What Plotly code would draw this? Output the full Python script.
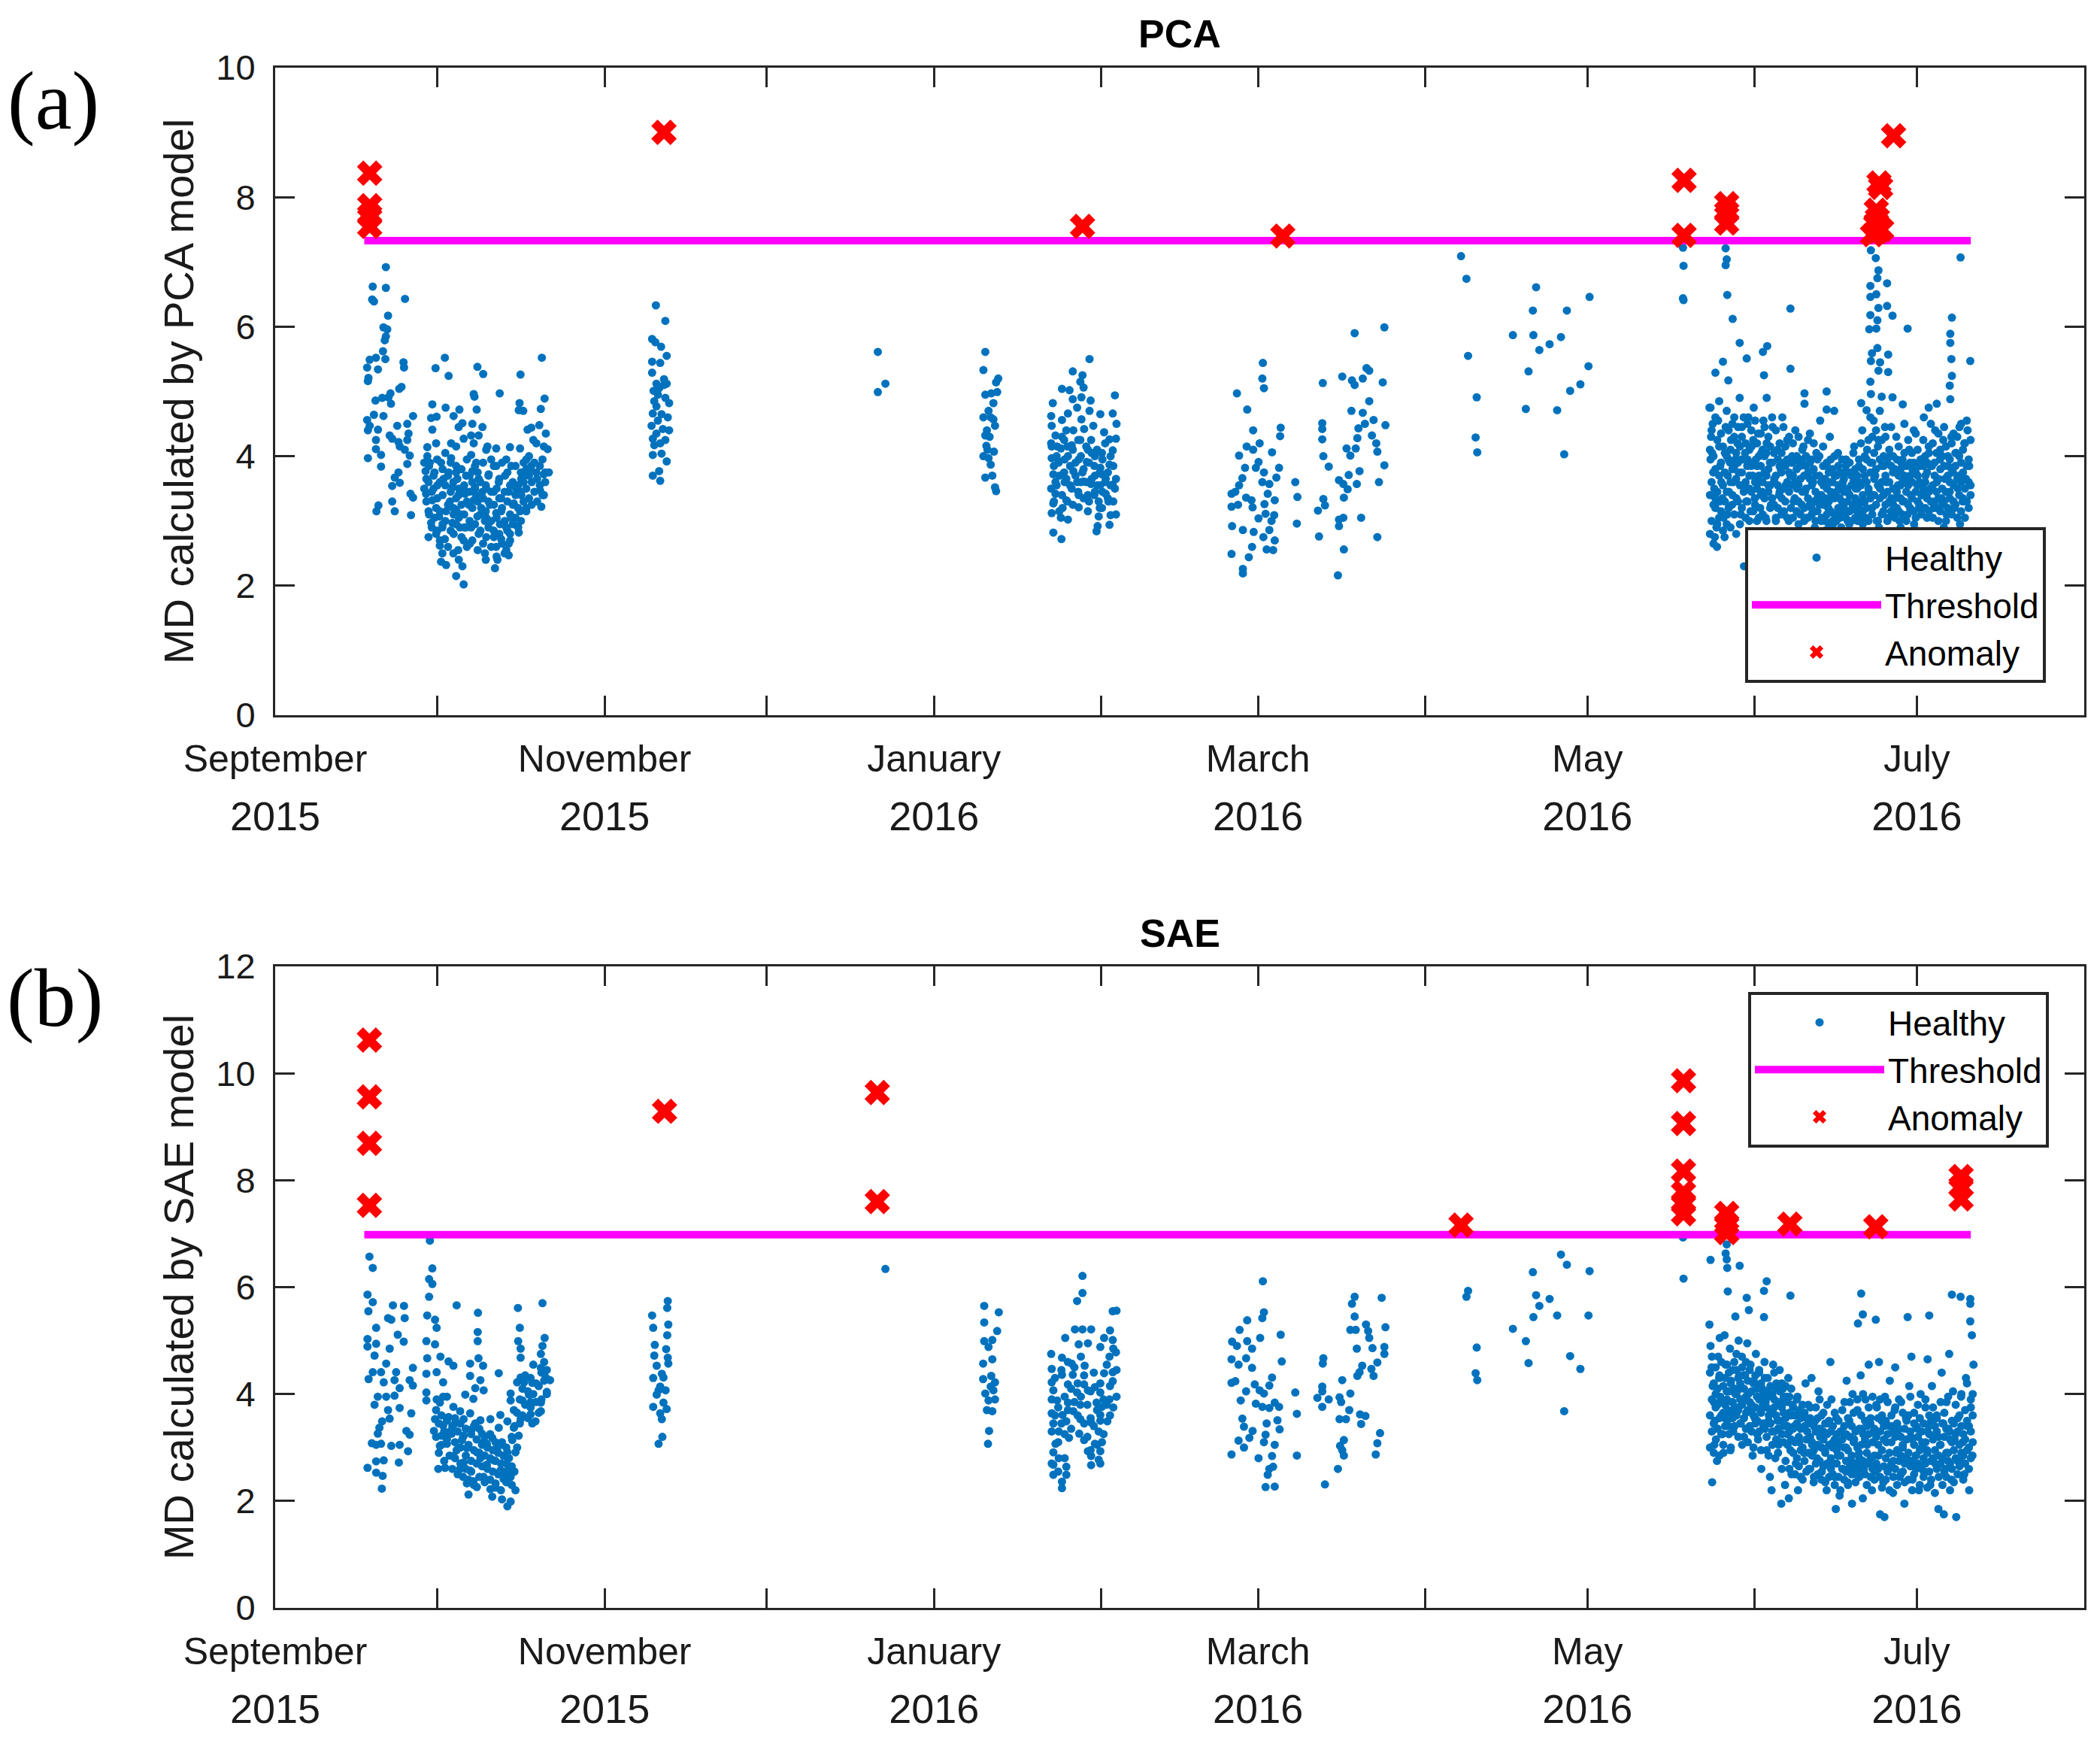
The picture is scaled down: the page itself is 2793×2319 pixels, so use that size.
import pandas as pd
import plotly.graph_objects as go

# ---------------- data ----------------
START = pd.Timestamp("2015-09-01")   # day offsets below are counted from this date

month_ticks = ["2015-09-01", "2015-10-01", "2015-11-01", "2015-12-01", "2016-01-01", "2016-02-01",
               "2016-03-01", "2016-04-01", "2016-05-01", "2016-06-01", "2016-07-01", "2016-08-01"]
month_names = ["September", "", "November", "", "January", "", "March", "", "May", "", "July", ""]
month_years = ["2015", "", "2015", "", "2016", "", "2016", "", "2016", "", "2016", ""]

threshold_span = ["2015-09-17 12:00", "2016-07-11 00:00"]
pca_threshold = 7.33
sae_threshold = 6.98

# PCA healthy points: (day offset, MD)
pca_healthy = [
    # Sep 17-27
    (20.5, 6.92), (18.06, 6.62), (20.5, 6.6), (17.96, 6.42), (18.3, 6.39), (24.04, 6.43), (20.9, 6.17),
    (20.05, 5.99), (20.75, 5.96), (20.5, 5.85), (20.3, 5.79), (19.96, 5.62), (17.5, 5.49), (18.66, 5.52),
    (20.4, 5.5), (17.03, 5.37), (19.03, 5.34), (17.27, 5.21), (17.17, 5.16), (23.76, 5.45), (23.86, 5.37),
    (23.39, 5.07), (22.97, 5.04), (21.35, 4.97), (20.98, 4.91), (18.57, 4.86), (19.82, 4.9), (21.44, 4.81),
    (18.29, 4.64), (20.05, 4.62), (25.53, 4.62), (17.03, 4.56), (17.5, 4.47), (17.17, 4.4), (19.03, 4.41),
    (22.6, 4.47), (24.46, 4.5), (24.69, 4.35), (21.2, 4.32), (21.67, 4.27), (22.83, 4.22), (24.46, 4.25),
    (18.66, 4.25), (23.07, 4.15), (24.0, 4.1), (18.66, 4.11), (19.6, 4.02), (24.92, 4.01), (17.17, 3.97),
    (24.46, 3.88), (19.6, 3.84), (22.83, 3.75), (22.14, 3.67), (23.07, 3.59), (21.67, 3.54), (25.06, 3.42),
    (25.53, 3.36), (19.12, 3.24), (18.75, 3.15), (21.67, 3.3), (22.14, 3.15), (25.15, 3.09),
    # Sep 28 - Oct 21 (sparse upper part)
    (31.42, 5.52), (29.7, 5.36), (32.12, 5.24), (37.45, 5.38), (38.52, 5.27), (49.38, 5.52), (45.43, 5.26),
    (36.76, 4.96), (36.9, 4.92), (41.58, 4.97), (49.89, 4.89), (29.1, 4.8), (31.56, 4.75), (34.11, 4.72),
    (33.04, 4.62), (37.31, 4.72), (45.25, 4.82), (45.11, 4.71), (45.94, 4.7), (49.19, 4.73), (28.87, 4.59),
    (29.89, 4.61), (29.1, 4.41), (34.67, 4.51), (33.97, 4.45), (36.52, 4.5), (38.38, 4.45), (46.73, 4.41),
    (47.43, 4.44), (48.91, 4.48), (50.12, 4.35), (34.9, 4.27), (36.29, 4.32), (37.68, 4.32), (36.76, 4.2),
    (29.8, 4.2), (32.58, 4.2), (28.17, 4.14), (33.51, 4.15), (39.31, 4.15), (40.93, 4.12), (43.48, 4.14),
    (45.34, 4.12), (47.8, 4.25), (48.36, 4.2), (49.75, 4.15), (50.45, 4.11),
    # Sep 28 - Oct 21 (dense core)
    (28.17, 4.0), (28.64, 3.9), (27.85, 3.77), (29.33, 3.7), (28.4, 3.6), (30.03, 3.55), (27.94, 3.42),
    (29.1, 3.32), (29.8, 3.2), (28.4, 3.15), (30.35, 3.07), (28.87, 2.97), (30.96, 2.9), (29.8, 2.8),
    (31.42, 2.72), (30.49, 2.62), (30.96, 2.5), (30.72, 2.37), (31.65, 2.32), (28.4, 2.75),
    (32.58, 3.97), (33.51, 3.85), (32.12, 3.75), (33.74, 3.65), (32.81, 3.52), (33.97, 3.4), (32.35, 3.3),
    (33.51, 3.17), (34.44, 3.1), (32.81, 2.97), (34.2, 2.9), (33.04, 2.8), (34.9, 2.7), (33.88, 2.55),
    (33.51, 2.15), (34.9, 2.02), (34.67, 2.3), (35.36, 3.7), (35.13, 3.42), (35.83, 3.25),
    (36.29, 4.02), (37.22, 3.9), (36.52, 3.77), (37.68, 3.65), (36.99, 3.52), (38.38, 3.45), (36.76, 3.32),
    (38.15, 3.2), (37.45, 3.07), (38.84, 3.0), (36.29, 2.9), (37.68, 2.8), (36.06, 2.65), (38.84, 2.5),
    (39.08, 4.1), (40.0, 3.95), (40.93, 3.85), (39.54, 3.72), (41.4, 3.6), (40.47, 3.45), (41.86, 3.35),
    (39.77, 3.25), (40.93, 3.12), (39.08, 3.05), (41.63, 2.95), (40.47, 2.85), (41.86, 2.72), (40.93, 2.6),
    (42.79, 2.55), (41.16, 2.4), (40.7, 2.27), (43.25, 2.47),
    (42.79, 3.95), (43.72, 3.85), (42.56, 3.7), (43.95, 3.57), (43.25, 3.45), (44.64, 3.5), (45.57, 3.4),
    (44.18, 3.27), (45.34, 3.15), (43.72, 3.05), (44.88, 2.92), (43.48, 2.8), (45.11, 2.82), (43.25, 2.65),
    (46.5, 3.95), (47.2, 3.8), (46.04, 3.7), (48.36, 3.75), (49.75, 3.72), (50.68, 3.75), (49.05, 3.47),
    (49.75, 3.4), (49.28, 3.22), (47.43, 3.85),
    (29.33, 3.5), (31.19, 3.65), (31.65, 3.15), (35.36, 2.9), (37.22, 3.4), (39.08, 3.5), (41.86, 3.15),
    (42.79, 2.9), (45.57, 3.65), (46.5, 3.2), (30.72, 3.9), (39.08, 2.75), (34.9, 3.5), (33.04, 3.1),
    # Nov 9-13
    (70.5, 6.33), (72.25, 6.09), (69.8, 5.81), (70.4, 5.76), (71.46, 5.69), (72.5, 5.55), (69.8, 5.46),
    (71.3, 5.44), (69.8, 5.29), (72.0, 5.19), (70.6, 5.12), (72.5, 5.12), (70.07, 5.01), (71.1, 5.05),
    (72.25, 4.9), (70.2, 4.85), (72.95, 4.82), (70.6, 4.77), (69.93, 4.66), (72.7, 4.6), (70.87, 4.55),
    (69.7, 4.47), (71.8, 4.42), (72.95, 4.4), (70.6, 4.35), (69.93, 4.27), (72.25, 4.25), (71.3, 4.2),
    (70.2, 4.17), (69.93, 4.02), (71.55, 4.04), (72.5, 3.92), (71.1, 3.77), (69.93, 3.7), (71.3, 3.62),
    (72.0, 5.1), (70.87, 4.95), (71.55, 4.65),
    # Dec 20-22
    (111.6, 5.61), (113.0, 5.12), (111.6, 4.99),
    # Jan 9-13
    (131.5, 5.61), (131.15, 5.33), (133.9, 5.2), (133.5, 5.14), (131.5, 4.95), (132.6, 4.97), (133.7, 4.99),
    (133.0, 4.82), (132.1, 4.7), (131.15, 4.6), (133.0, 4.57), (133.3, 4.47), (131.8, 4.4), (131.5, 4.32),
    (132.3, 4.3), (131.7, 4.16), (133.1, 4.07), (131.15, 4.0), (132.1, 3.97), (132.5, 3.87), (132.8, 3.7),
    (131.5, 3.67), (133.3, 3.52), (133.5, 3.46), (131.9, 4.1), (132.5, 4.6),
    # Jan 22 - Feb 5
    (150.8, 5.5), (147.7, 5.31), (149.5, 5.25), (149.1, 5.15), (149.7, 5.06), (145.7, 5.04), (147.1, 5.02),
    (155.5, 4.94), (144.0, 4.82), (147.7, 4.88), (149.3, 4.91), (151.0, 4.86), (148.5, 4.75), (150.8, 4.7),
    (152.8, 4.65), (155.1, 4.66), (143.7, 4.62), (146.8, 4.66), (145.7, 4.56), (143.8, 4.47), (149.3, 4.57),
    (151.5, 4.47), (155.8, 4.5), (146.5, 4.4), (147.8, 4.4), (149.8, 4.42), (153.5, 4.37), (144.5, 4.32),
    (146.1, 4.25), (149.1, 4.25), (151.1, 4.25), (154.5, 4.26), (155.7, 4.27), (143.8, 4.15), (145.5, 4.12),
    (147.5, 4.17), (150.5, 4.1), (155.1, 4.09), (153.1, 4.05), (151.8, 4.0), (143.8, 3.97), (145.1, 3.92),
    (146.8, 4.0), (148.8, 3.95), (150.3, 3.91), (154.5, 3.87), (152.8, 3.82), (144.1, 3.72), (146.1, 3.75),
    (147.8, 3.77), (149.5, 3.75), (151.8, 3.7), (153.1, 3.72), (144.5, 3.6), (149.7, 3.61), (151.1, 3.57),
    (152.8, 3.55), (155.1, 3.56), (155.5, 3.5), (144.5, 3.42), (147.5, 3.5), (148.8, 3.4), (151.8, 3.45),
    (153.8, 3.42), (144.1, 3.27), (146.5, 3.32), (152.5, 3.3), (154.3, 3.3), (148.8, 3.21), (150.5, 3.15),
    (153.1, 3.2), (143.8, 3.12), (145.5, 3.05), (146.8, 3.02), (152.5, 3.07), (154.7, 3.09), (152.3, 2.92),
    (154.5, 2.94), (152.1, 2.84), (144.1, 2.82), (145.6, 2.72), (145.1, 3.9), (146.5, 3.65), (148.5, 3.6),
    (145.8, 3.2), (150.5, 3.4), (153.8, 3.65), (144.8, 4.15),
    # Feb 26 - Mar 9
    (182.9, 5.44), (182.8, 5.2), (183.1, 5.05), (178.1, 4.97), (180.0, 4.72), (181.1, 4.4), (186.2, 4.44),
    (186.1, 4.31), (182.3, 4.2), (179.9, 4.15), (181.1, 4.1), (178.5, 4.01), (184.6, 4.06), (182.1, 3.91),
    (179.6, 3.82), (181.6, 3.82), (185.9, 3.82), (183.1, 3.75), (185.4, 3.67), (179.1, 3.66), (188.9, 3.6),
    (182.8, 3.6), (184.1, 3.57), (178.5, 3.55), (177.8, 3.45), (177.1, 3.42), (183.8, 3.42), (189.3, 3.37),
    (179.8, 3.36), (180.8, 3.32), (185.1, 3.32), (177.1, 3.22), (178.3, 3.25), (181.0, 3.21), (183.2, 3.26),
    (185.0, 3.09), (183.4, 3.11), (182.1, 3.04), (184.5, 3.0), (189.2, 2.96), (177.2, 2.92), (179.2, 2.86),
    (181.2, 2.83), (184.1, 2.86), (183.0, 2.75), (185.1, 2.7), (183.6, 2.56), (184.8, 2.55), (180.9, 2.6),
    (177.1, 2.49), (180.3, 2.44), (179.2, 2.26), (179.2, 2.19),
    # Mar 13 - Apr 1
    (205.4, 5.99), (199.9, 5.9), (202.1, 5.36), (202.6, 5.32), (197.6, 5.23), (199.4, 5.17), (201.4, 5.2),
    (199.9, 5.1), (205.1, 5.14), (194.0, 5.13), (202.6, 4.85), (199.3, 4.7), (201.4, 4.67), (193.9, 4.51),
    (193.9, 4.42), (205.6, 4.48), (203.4, 4.56), (201.8, 4.5), (200.6, 4.43), (203.1, 4.32), (193.9, 4.26),
    (200.4, 4.28), (203.9, 4.2), (198.4, 4.12), (200.1, 4.12), (199.1, 4.01), (204.1, 4.07), (194.1, 4.0),
    (205.4, 3.86), (195.1, 3.84), (200.8, 3.77), (198.8, 3.71), (197.0, 3.63), (200.3, 3.57), (197.8, 3.57),
    (198.6, 3.49), (204.4, 3.6), (194.1, 3.34), (194.4, 3.24), (197.9, 3.36), (193.1, 3.16), (197.0, 3.02),
    (197.8, 3.05), (201.1, 3.05), (197.0, 2.92), (193.3, 2.76), (204.1, 2.75), (197.9, 2.56), (196.8, 2.16),
    # Apr 12 - May 1
    (219.6, 7.09), (220.6, 6.74), (220.9, 5.55), (222.5, 4.91), (222.3, 4.29), (222.6, 4.06), (233.5, 6.61),
    (232.9, 6.25), (239.2, 6.25), (229.2, 5.87), (233.0, 5.87), (238.1, 5.84), (236.0, 5.73), (234.1, 5.64),
    (243.4, 6.46), (243.2, 5.39), (232.1, 5.31), (241.7, 5.11), (239.8, 5.01), (231.6, 4.73), (237.4, 4.71),
    (238.7, 4.03),
    # May 18 - Jul 13 (upper spikes)
    (260.7, 7.22), (260.8, 6.94), (260.7, 6.44), (260.8, 6.41), (268.6, 7.21), (268.8, 7.04), (268.6, 6.95),
    (268.9, 6.49), (269.9, 6.12), (271.2, 5.75), (280.6, 6.28), (302.3, 5.97), (312.1, 7.07),
    (295.5, 7.18), (296.4, 7.06), (296.9, 6.87), (296.7, 6.75), (298.5, 6.67), (295.4, 6.63), (296.5, 6.5),
    (295.4, 6.46), (296.9, 6.29), (298.5, 6.32), (299.5, 6.17), (295.4, 6.18), (296.7, 6.1), (296.5, 5.97),
    (295.2, 5.96), (296.7, 5.67), (298.7, 5.57), (295.7, 5.59), (297.2, 5.45), (295.5, 5.47), (298.7, 5.3),
    (296.9, 5.32), (295.4, 5.15), (295.5, 4.96), (297.5, 4.92), (299.5, 4.91), (301.4, 4.8), (293.7, 4.82),
    (294.7, 4.71), (310.5, 6.14), (310.2, 5.89), (310.2, 5.75), (310.4, 5.5), (310.5, 5.24), (310.1, 5.09),
    (313.9, 5.47), (310.2, 4.88), (268.1, 5.46), (266.7, 5.29), (269.1, 5.17), (272.5, 5.51), (275.5, 5.61),
    (276.3, 5.7), (275.7, 5.25), (276.2, 4.9), (280.6, 5.35), (283.2, 4.97), (283.2, 4.81), (287.3, 5.0),
    (287.3, 4.72), (288.7, 4.7), (306.2, 4.75), (307.7, 4.81), (265.8, 4.75),
    # May 23 - Jul 13 (dense part)
    (265.6, 4.75), (265.9, 4.3), (266.1, 4.05), (266.3, 3.75), (266.5, 3.5), (266.7, 3.2), (266.9, 2.9),
    (267.0, 2.6), (267.2, 4.55), (267.4, 4.15), (267.6, 3.85), (267.8, 3.6), (268.0, 3.35), (268.2, 3.05),
    (268.4, 2.75), (268.6, 4.45), (268.8, 4.0), (269.0, 3.7), (269.2, 3.45), (269.4, 3.9), (269.6, 4.25),
    (269.8, 3.25), (270.0, 3.6), (270.2, 4.6), (266.2, 4.5), (267.5, 3.3), (268.9, 3.1), (270.4, 3.95),
    (265.8, 3.95), (266.6, 2.75),
    (270.6, 3.35), (270.8, 4.2), (271.0, 3.75), (271.2, 4.9), (271.4, 3.1), (271.6, 4.45), (271.8, 3.55),
    (272.0, 2.3), (272.2, 4.05), (272.4, 3.3), (272.6, 3.85), (272.8, 4.6), (273.0, 3.5), (273.2, 3.15),
    (273.4, 4.15), (273.6, 3.7), (273.8, 4.75), (274.0, 3.35), (274.2, 3.95), (274.4, 3.0), (274.6, 4.35),
    (274.8, 3.6), (275.0, 3.2), (275.2, 4.05), (275.4, 3.45), (275.6, 4.55), (275.8, 3.75), (276.0, 3.05),
    (276.2, 4.2), (271.5, 3.95),
    (276.5, 3.55), (276.8, 3.9), (277.0, 3.25), (277.3, 4.45), (277.6, 3.65), (277.9, 3.0), (278.2, 4.1),
    (278.5, 3.4), (278.8, 3.8), (279.1, 4.6), (279.4, 3.15), (279.7, 3.55), (280.0, 4.25), (280.3, 3.0),
    (280.6, 3.7), (280.9, 4.0), (281.2, 3.3), (281.5, 4.4), (281.8, 3.5), (282.1, 2.95), (282.4, 3.85),
    (282.7, 3.25), (283.0, 4.15), (283.3, 3.45), (283.6, 3.05), (283.9, 3.75), (284.2, 4.35), (284.5, 3.2),
    (279.0, 3.35), (281.0, 3.9),
    (284.8, 3.6), (285.1, 2.9), (285.4, 4.05), (285.8, 3.3), (286.1, 4.55), (286.4, 3.05), (286.7, 3.55),
    (287.0, 2.85), (287.3, 3.85), (287.6, 3.2), (287.9, 4.3), (288.2, 3.4), (288.5, 2.95), (288.8, 3.7),
    (289.1, 3.1), (289.4, 4.05), (289.7, 3.35), (290.0, 2.9), (290.3, 3.6), (290.6, 3.15), (290.9, 3.95),
    (291.2, 3.45), (291.5, 2.95), (291.8, 3.75), (292.1, 3.2), (292.4, 4.15), (292.7, 3.5), (293.0, 3.0),
    (288.0, 3.6), (290.5, 3.75),
    (293.3, 3.85), (293.6, 3.3), (293.9, 4.4), (294.2, 3.6), (294.5, 3.05), (294.8, 4.1), (295.1, 3.45),
    (295.4, 3.9), (295.7, 3.2), (296.0, 4.55), (296.3, 3.7), (296.6, 3.0), (296.9, 4.25), (297.2, 3.5),
    (297.5, 3.85), (297.8, 3.15), (298.1, 4.45), (298.4, 3.6), (298.7, 3.05), (299.0, 4.0), (299.3, 3.35),
    (299.6, 3.75), (299.9, 3.1), (294.0, 2.95), (297.0, 2.9),
    (300.2, 4.3), (300.5, 3.55), (300.8, 3.0), (301.1, 3.9), (301.4, 3.3), (301.7, 4.5), (302.0, 3.65),
    (302.3, 3.1), (302.6, 4.1), (302.9, 3.4), (303.2, 3.8), (303.5, 2.95), (303.8, 4.35), (304.1, 3.55),
    (304.4, 3.2), (304.7, 3.95), (305.0, 3.4), (305.3, 4.6), (305.6, 3.7), (305.9, 3.05), (306.2, 4.15),
    (306.5, 3.5), (306.8, 3.85), (307.1, 3.2), (307.4, 4.4), (307.7, 3.6), (308.0, 3.0), (308.3, 3.95),
    (308.6, 3.35), (308.9, 4.25), (309.2, 3.65), (309.5, 3.1), (309.8, 3.85), (310.1, 3.45), (310.4, 4.3),
    (310.7, 3.75), (311.0, 3.2), (311.3, 4.05), (311.6, 3.5), (311.9, 4.45), (312.2, 3.9), (312.5, 3.3),
    (312.8, 4.2), (313.1, 3.65), (313.4, 4.4), (313.7, 3.85), (301.0, 2.9), (304.0, 2.85), (309.0, 2.9),
    (312.0, 2.95), (280.0, 2.5), (290.0, 2.4), (300.0, 2.6), (306.0, 2.7), (285.0, 2.65), (295.0, 2.55),
]

# further PCA readings grouped by day: (day offset, [MD values])
pca_healthy_groups = [
    # Sep-Oct core
    (27.6, [3.5, 3.9]), (28.0, [3.3, 3.65]), (28.5, [3.85, 3.1]), (29.0, [3.45, 2.9]), (29.5, [3.75, 3.05]),
    (30.0, [3.35, 2.85, 3.95]), (30.5, [3.6, 3.15, 2.7]), (31.0, [3.4, 3.8, 2.95]), (31.5, [3.55, 3.0, 4.05]),
    (32.0, [3.25, 3.7, 2.6]), (32.5, [3.45, 2.85, 3.9]), (33.0, [3.6, 3.2, 2.5]), (33.5, [3.35, 2.95, 3.75]),
    (34.0, [3.5, 3.05, 2.4]), (34.5, [3.25, 3.8, 2.75]), (35.0, [3.55, 3.1, 2.9]), (35.5, [3.3, 3.95, 2.6]),
    (36.0, [3.45, 3.0, 3.7]), (36.5, [3.2, 3.6, 2.7]), (37.0, [3.5, 2.95, 3.85]), (37.5, [3.3, 3.75, 2.55]),
    (38.0, [3.6, 3.1, 2.85]), (38.5, [3.35, 3.9, 2.65]), (39.0, [3.55, 3.15, 2.4]), (39.5, [3.3, 3.7, 2.9]),
    (40.0, [3.45, 3.0, 2.6]), (40.5, [3.25, 3.85, 2.75]), (41.0, [3.5, 3.05, 2.45]), (41.5, [3.35, 3.65, 2.8]),
    (42.0, [3.2, 3.9, 2.65]), (42.5, [3.45, 3.0, 2.5]), (43.0, [3.3, 3.75, 2.85]), (43.5, [3.55, 3.1, 2.7]),
    (44.0, [3.25, 3.6, 2.95]), (44.5, [3.4, 3.85, 3.05]), (45.0, [3.2, 3.55, 2.9]), (45.5, [3.45, 3.75, 3.0]),
    (46.0, [3.3, 3.6, 3.9]), (46.5, [3.5, 3.15, 3.8]), (47.0, [3.35, 3.7, 4.0]), (47.5, [3.6, 3.25]),
    (48.0, [3.45, 3.9]), (48.5, [3.65, 3.3]), (49.0, [3.55, 3.85]), (49.5, [3.4, 3.95]), (50.0, [3.6, 3.75]),
    # Jan-Feb core
    (143.7, [3.5, 4.2]), (144.2, [3.85, 3.3]), (144.7, [4.0, 3.55]), (145.2, [3.7, 3.15]), (145.7, [4.3, 3.4]),
    (146.2, [3.6, 3.95]), (146.7, [3.3, 4.15]), (147.2, [3.85, 3.55]), (147.7, [4.1, 3.25]), (148.2, [3.7, 3.9]),
    (148.7, [4.25, 3.45]), (149.2, [3.6, 4.0]), (149.7, [3.35, 3.8]), (150.2, [4.15, 3.6]), (150.7, [3.9, 3.3]),
    (151.2, [3.65, 4.05]), (151.7, [3.4, 3.85]), (152.2, [4.1, 3.55]), (152.7, [3.75, 3.2]), (153.2, [3.95, 3.45]),
    (153.7, [3.6, 4.2]), (154.2, [3.35, 3.75]), (154.7, [3.55, 4.0]), (155.2, [3.85, 3.3]), (155.7, [3.65, 3.1]),
    # May-Jul core
    (265.7, [4.1, 3.4, 2.8]), (266.0, [3.6, 4.4, 3.0]), (266.35, [4.0, 3.25, 2.65]), (266.7, [3.8, 4.6, 3.35]),
    (267.05, [3.45, 4.25, 2.95]), (267.4, [3.7, 3.05, 4.85]), (267.75, [4.35, 3.9, 3.15]),
    (268.1, [3.55, 4.15, 2.85]), (268.45, [4.05, 3.3, 3.75]), (268.8, [3.45, 4.7, 2.95]),
    (269.15, [3.95, 3.2, 4.4]), (269.5, [3.6, 2.9, 4.1]), (269.85, [4.5, 3.8, 3.4]), (270.2, [3.1, 3.85, 4.3]),
    (270.55, [3.65, 4.05, 2.8]), (270.9, [3.3, 4.45, 3.9]), (271.25, [4.15, 3.55, 2.95]),
    (271.6, [3.75, 3.2, 4.3]), (271.95, [4.6, 3.45, 3.95]), (272.3, [3.6, 4.2, 3.05]),
    (272.65, [3.3, 3.95, 4.5]), (273.0, [4.1, 3.7, 3.0]), (273.35, [3.45, 4.4, 3.85]),
    (273.7, [3.15, 3.9, 4.25]), (274.05, [4.55, 3.6, 3.25]), (274.4, [3.85, 4.2, 3.5]),
    (274.75, [3.05, 4.0, 3.7]), (275.1, [4.35, 3.4, 3.85]), (275.45, [3.6, 4.1, 3.1]),
    (275.8, [4.0, 3.35, 4.45]), (276.15, [3.7, 3.0, 4.05]), (276.5, [4.3, 3.45, 3.8]),
    (276.85, [3.55, 4.15, 3.2]), (277.2, [3.9, 3.35, 4.6]), (277.55, [3.25, 4.05, 3.6]),
    (277.9, [4.4, 3.7, 3.05]), (278.25, [3.55, 3.95, 3.2]), (278.6, [4.2, 3.45, 3.85]),
    (278.95, [3.1, 3.75, 4.05]), (279.3, [3.9, 4.45, 3.5]), (279.65, [3.3, 3.85, 4.15]),
    (280.0, [3.6, 3.05, 3.95]), (280.35, [4.3, 3.45, 3.75]), (280.7, [3.2, 3.9, 3.55]),
    (281.05, [3.7, 4.2, 3.05]), (281.4, [3.95, 3.35, 3.6]), (281.75, [3.15, 4.0, 3.8]),
    (282.1, [3.55, 4.3, 3.3]), (282.45, [3.9, 3.1, 3.65]), (282.8, [3.45, 3.95, 4.1]),
    (283.15, [3.2, 3.7, 3.0]), (283.5, [4.0, 3.5, 3.85]), (283.85, [3.35, 3.05, 4.25]),
    (284.2, [3.65, 3.9, 3.25]), (284.55, [3.1, 3.55, 3.95]), (284.9, [3.8, 3.3, 4.2]),
    (285.25, [3.45, 3.0, 3.7]), (285.6, [3.95, 3.35, 3.15]), (285.95, [3.25, 3.7, 4.0]),
    (286.3, [3.6, 3.0, 3.4]), (286.65, [3.85, 3.25, 4.15]), (287.0, [3.35, 3.65, 3.0]),
    (287.35, [3.1, 3.5, 3.9]), (287.7, [3.75, 3.3, 2.95]), (288.05, [3.45, 3.95, 3.15]),
    (288.4, [3.0, 3.6, 3.8]), (288.75, [3.35, 3.1, 4.0]), (289.1, [3.7, 3.45, 3.0]),
    (289.45, [3.2, 3.85, 3.55]), (289.8, [3.5, 3.05, 3.75]), (290.15, [3.3, 3.95, 3.1]),
    (290.5, [3.65, 3.2, 3.45]), (290.85, [3.05, 3.5, 3.85]), (291.2, [3.75, 3.3, 3.0]),
    (291.55, [3.4, 3.9, 3.15]), (291.9, [3.0, 3.55, 3.7]), (292.25, [3.6, 3.25, 4.05]),
    (292.6, [3.35, 3.8, 3.05]), (292.95, [3.7, 3.15, 3.5]), (293.3, [3.25, 3.95, 3.6]),
    (293.65, [3.55, 3.05, 4.2]), (294.0, [3.8, 3.4, 3.15]), (294.35, [3.3, 3.7, 4.0]),
    (294.7, [3.6, 3.2, 3.95]), (295.05, [4.25, 3.5, 3.0]), (295.4, [3.75, 3.35, 4.6]),
    (295.75, [3.9, 3.1, 4.3]), (296.1, [3.4, 4.05, 3.65]), (296.45, [3.8, 3.25, 4.4]),
    (296.8, [3.55, 4.15, 3.0]), (297.15, [3.95, 3.35, 4.7]), (297.5, [3.6, 4.25, 3.1]),
    (297.85, [3.85, 3.4, 4.0]), (298.2, [3.25, 3.7, 4.3]), (298.55, [3.9, 3.45, 3.0]),
    (298.9, [3.6, 4.1, 3.3]), (299.25, [3.15, 3.85, 4.45]), (299.6, [3.5, 4.0, 3.25]),
    (299.95, [3.8, 3.35, 3.05]), (300.3, [3.45, 3.95, 3.2]), (300.65, [3.7, 3.15, 4.15]),
    (301.0, [3.35, 3.8, 3.55]), (301.35, [3.95, 3.1, 3.6]), (301.7, [3.3, 3.7, 4.05]),
    (302.05, [3.85, 3.45, 3.0]), (302.4, [3.55, 4.25, 3.25]), (302.75, [3.2, 3.7, 3.9]),
    (303.1, [3.6, 4.05, 3.35]), (303.45, [3.9, 3.15, 4.4]), (303.8, [3.45, 3.75, 3.05]),
    (304.15, [3.7, 4.1, 3.3]), (304.5, [3.25, 3.85, 3.6]), (304.85, [3.95, 3.4, 3.1]),
    (305.2, [3.5, 3.85, 4.25]), (305.55, [3.2, 3.6, 4.0]), (305.9, [3.75, 3.35, 3.9]),
    (306.25, [3.45, 4.05, 3.15]), (306.6, [3.85, 3.3, 4.5]), (306.95, [3.55, 4.2, 3.05]),
    (307.3, [3.3, 3.9, 3.7]), (307.65, [4.05, 3.45, 3.2]), (308.0, [3.65, 4.35, 3.35]),
    (308.35, [3.15, 3.8, 4.1]), (308.7, [3.5, 4.0, 3.25]), (309.05, [3.85, 3.3, 4.45]),
    (309.4, [3.45, 4.15, 3.0]), (309.75, [3.7, 3.2, 4.0]), (310.1, [3.35, 3.95, 3.6]),
    (310.45, [3.8, 3.1, 4.2]), (310.8, [3.55, 4.35, 3.3]), (311.15, [3.25, 3.85, 4.05]),
    (311.5, [3.65, 3.05, 4.3]), (311.85, [3.4, 4.0, 3.7]), (312.2, [3.15, 3.6, 4.5]),
    (312.55, [3.75, 3.35, 4.1]), (312.9, [3.5, 4.2, 3.05]), (313.25, [3.85, 3.3, 4.55]),
    (313.6, [3.2, 3.95, 3.6]), (313.95, [3.55, 4.25, 3.4]),
]

pca_anomaly = [
    (17.5, 8.37), (17.5, 7.87), (17.5, 7.72), (17.5, 7.55), (72.0, 9.0), (149.5, 7.55), (186.6, 7.4),
    (260.9, 8.26), (260.9, 7.41), (268.8, 7.9), (268.8, 7.77), (268.8, 7.6), (297.0, 8.22), (297.3, 8.15),
    (296.5, 7.8), (296.7, 7.67), (296.4, 7.57), (296.8, 7.47), (295.8, 7.42), (297.5, 7.5), (299.7, 8.95),
]

# SAE healthy points: (day offset, MD)
sae_healthy = [
    # Sep 17-26
    (17.45, 6.57), (18.07, 6.36), (17.1, 5.86), (18.07, 5.72), (17.26, 5.55), (21.8, 5.66), (23.85, 5.65),
    (20.9, 5.42), (21.5, 5.39), (23.98, 5.42), (18.7, 5.24), (22.7, 5.11), (17.1, 5.03), (23.8, 4.98),
    (18.7, 4.94), (17.1, 4.89), (21.2, 4.85), (18.4, 4.72), (20.56, 4.57), (25.5, 4.49), (18.07, 4.41),
    (22.4, 4.41), (19.6, 4.41), (24.9, 4.26), (17.3, 4.28), (22.1, 4.26), (20.1, 4.22), (25.5, 4.16),
    (23.05, 4.11), (19.0, 3.95), (20.56, 3.95), (22.1, 3.97), (18.4, 3.8), (23.05, 3.74), (20.9, 3.7),
    (25.2, 3.64), (19.8, 3.49), (21.2, 3.54), (19.3, 3.37), (24.3, 3.31), (19.0, 3.26), (24.9, 3.24),
    (18.7, 3.05), (19.6, 3.07), (21.5, 3.03), (23.05, 3.05), (24.6, 2.93), (18.7, 2.74), (20.1, 2.76),
    (22.9, 2.72), (17.1, 2.62), (18.7, 2.53), (19.9, 2.47), (19.75, 2.23), (17.9, 3.08),
    # Sep 27 - Oct 21
    (28.65, 6.87), (29.1, 6.35), (28.5, 6.15), (29.1, 6.06), (28.5, 5.82), (33.6, 5.66), (37.55, 5.52),
    (44.95, 5.61), (49.5, 5.7), (28.15, 5.47), (29.6, 5.39), (29.9, 5.24), (45.3, 5.24), (37.5, 5.16),
    (37.5, 4.99), (28.0, 4.99), (29.6, 4.93), (45.0, 4.99), (45.45, 4.85), (49.9, 5.05), (49.5, 4.9),
    (28.15, 4.67), (49.2, 4.75), (37.65, 4.67), (45.45, 4.68), (30.6, 4.7), (32.1, 4.61), (33.0, 4.53),
    (36.1, 4.57), (38.5, 4.53), (49.2, 4.49), (41.4, 4.39), (50.1, 4.31), (50.9, 4.26), (28.0, 4.38),
    (29.9, 4.41), (45.45, 4.31), (36.1, 4.34), (38.0, 4.26), (31.1, 4.22), (44.8, 4.22), (46.1, 4.22),
    (47.6, 4.21), (28.0, 4.03), (37.05, 4.11), (38.6, 4.07), (50.3, 4.04), (31.1, 3.95), (43.6, 4.01),
    (47.0, 3.99), (28.0, 3.88), (29.9, 3.9), (43.6, 3.88), (45.8, 3.88), (47.3, 3.85), (49.2, 3.84),
    (35.2, 3.99), (36.7, 3.91), (44.2, 3.7), (49.2, 3.68), (47.3, 3.62), (45.45, 3.53), (48.2, 3.49),
    (47.6, 3.45), (29.6, 3.53), (29.4, 3.31),
    (30.5, 3.84), (31.8, 3.95), (33.0, 3.76), (34.25, 3.68), (32.1, 3.57), (31.1, 3.41), (33.3, 3.45),
    (34.9, 3.53), (36.1, 3.64), (38.0, 3.51), (39.85, 3.53), (41.7, 3.61), (43.0, 3.49), (44.2, 3.37),
    (30.8, 3.22), (32.7, 3.26), (34.6, 3.14), (36.4, 3.34), (38.3, 3.26), (40.2, 3.18), (42.0, 3.1),
    (43.9, 3.14), (45.1, 3.22), (30.5, 3.03), (31.8, 3.07), (33.6, 2.95), (35.5, 2.99), (37.35, 2.91),
    (39.2, 3.07), (41.1, 2.99), (43.0, 2.91), (44.5, 2.91), (30.2, 2.6), (31.45, 2.62), (33.0, 2.84),
    (34.9, 2.72), (36.1, 2.57), (38.0, 2.8), (39.2, 2.68), (40.5, 2.76), (41.7, 2.57), (43.3, 2.64),
    (36.7, 2.37), (35.5, 2.33), (38.6, 2.45), (39.85, 2.22), (40.8, 2.33), (42.3, 2.41), (43.6, 2.45),
    (40.2, 2.08), (42.0, 2.03), (43.0, 1.9), (43.6, 1.99), (44.5, 2.2), (35.8, 2.12), (37.35, 2.26),
    (34.25, 2.6), (32.4, 3.3), (41.4, 3.37), (37.05, 3.45), (38.6, 3.1), (42.3, 2.84), (34.9, 3.22),
    # Nov 9-13
    (72.7, 5.74), (72.6, 5.61), (69.8, 5.47), (70.0, 5.24), (72.8, 5.3), (72.6, 5.1), (70.3, 4.92),
    (72.4, 4.84), (72.7, 4.68), (70.2, 4.72), (70.65, 4.53), (72.8, 4.57), (70.0, 4.3), (71.9, 4.31),
    (71.3, 4.14), (72.3, 4.07), (70.65, 3.99), (71.9, 3.84), (70.0, 3.76), (72.5, 3.72), (71.3, 3.64),
    (71.6, 3.53), (71.7, 3.2), (71.0, 3.07), (71.6, 4.38), (71.0, 4.07),
    # Dec 22
    (113.0, 6.34),
    # Jan 9-13
    (131.3, 5.65), (134.0, 5.53), (131.3, 5.34), (133.7, 5.18), (131.3, 4.99), (132.8, 5.01), (132.1, 4.88),
    (131.1, 4.57), (132.8, 4.65), (131.1, 4.28), (132.6, 4.34), (133.3, 4.22), (131.5, 4.01), (133.0, 4.07),
    (132.1, 3.88), (133.3, 3.9), (131.8, 3.7), (132.8, 3.68), (132.2, 3.31), (132.0, 3.07), (132.5, 4.14),
    # Jan 22 - Feb 5
    (149.5, 6.21), (149.5, 5.89), (148.5, 5.74), (155.1, 5.55), (155.8, 5.56), (154.6, 5.19), (155.1, 5.01),
    (148.1, 5.21), (149.5, 5.21), (151.1, 5.21), (146.3, 5.05), (150.5, 4.95), (148.8, 4.93), (153.5, 5.05),
    (143.7, 4.75), (145.7, 4.68), (152.8, 4.88), (155.7, 4.78), (147.5, 4.57), (149.9, 4.53), (154.5, 4.7),
    (143.8, 4.47), (145.7, 4.36), (147.7, 4.36), (153.5, 4.39), (155.1, 4.41), (143.8, 4.22), (146.8, 4.18),
    (149.8, 4.18), (151.8, 4.13), (155.1, 4.24), (144.1, 4.07), (148.5, 4.03), (152.8, 4.03), (154.5, 3.9),
    (144.8, 3.88), (146.8, 3.84), (149.1, 3.8), (152.1, 3.84), (143.8, 3.64), (145.8, 3.61), (147.8, 3.68),
    (152.8, 3.61), (144.1, 3.45), (146.5, 3.49), (151.1, 3.47), (154.1, 3.49), (145.1, 3.3), (148.9, 3.26),
    (152.5, 3.3), (144.5, 3.07), (147.0, 3.18), (151.8, 3.07), (153.1, 3.1), (144.1, 2.91), (145.1, 2.8),
    (150.5, 2.93), (152.8, 2.93), (151.1, 2.84), (152.5, 2.77), (151.1, 2.67), (144.1, 2.68), (146.5, 2.64),
    (144.1, 2.49), (146.5, 2.49), (145.7, 2.36), (145.7, 2.24), (150.5, 4.07), (149.1, 3.53), (153.1, 3.76),
    (149.8, 3.14),
    # Feb 26 - Mar 9
    (182.9, 6.11), (183.1, 5.53), (182.8, 5.42), (180.0, 5.38), (178.6, 5.2), (186.2, 5.11), (182.4, 5.05),
    (177.2, 4.98), (178.1, 4.9), (180.0, 4.99), (180.9, 4.85), (186.4, 4.61), (177.1, 4.65), (179.8, 4.67),
    (178.4, 4.55), (180.9, 4.49), (184.6, 4.31), (184.1, 4.16), (177.1, 4.21), (177.8, 4.24), (181.4, 4.18),
    (179.8, 4.05), (182.3, 4.07), (183.1, 4.01), (188.9, 4.03), (178.8, 3.88), (181.6, 3.82), (185.1, 3.84),
    (185.9, 3.76), (182.8, 3.76), (184.1, 3.74), (189.2, 3.63), (179.1, 3.54), (183.6, 3.45), (185.6, 3.51),
    (181.0, 3.31), (179.4, 3.39), (186.0, 3.34), (180.4, 3.18), (183.4, 3.24), (178.4, 3.13), (183.1, 3.1),
    (185.1, 3.05), (179.4, 3.0), (177.1, 2.87), (184.6, 2.84), (189.2, 2.85), (182.1, 2.8), (184.8, 2.64),
    (184.1, 2.6), (183.8, 2.49), (183.4, 2.26), (185.1, 2.27),
    # Mar 13 - Apr 1
    (199.9, 5.82), (204.9, 5.8), (199.4, 5.69), (199.9, 5.45), (202.0, 5.3), (199.1, 5.2), (200.1, 5.2),
    (202.4, 5.18), (205.6, 5.25), (202.6, 5.05), (200.3, 4.85), (203.2, 4.86), (205.4, 4.88), (205.4, 4.75),
    (194.1, 4.67), (194.0, 4.57), (201.3, 4.53), (200.8, 4.41), (204.1, 4.59), (203.0, 4.47), (200.4, 4.34),
    (203.4, 4.34), (197.6, 4.26), (193.9, 4.14), (193.9, 4.05), (199.1, 4.01), (197.1, 3.94), (193.0, 3.93),
    (195.1, 3.9), (193.9, 3.76), (197.4, 3.85), (198.9, 3.7), (200.9, 3.62), (201.9, 3.59), (197.1, 3.53),
    (198.3, 3.53), (201.1, 3.44), (204.6, 3.27), (197.9, 3.14), (197.2, 3.03), (197.6, 2.95), (197.9, 2.85),
    (204.1, 3.08), (203.8, 2.87), (196.8, 2.6), (194.4, 2.31),
    # Apr 12 - May 1
    (220.9, 5.93), (220.6, 5.82), (222.5, 4.87), (222.3, 4.39), (222.6, 4.26), (232.9, 6.28), (238.1, 6.61),
    (239.2, 6.42), (243.4, 6.3), (233.5, 5.85), (236.0, 5.78), (234.1, 5.65), (233.0, 5.44), (237.4, 5.47),
    (243.2, 5.47), (229.2, 5.22), (231.6, 4.99), (232.1, 4.58), (239.8, 4.71), (241.7, 4.47), (238.7, 3.68),
    # May 18 - Jul 14 (upper spikes)
    (260.7, 6.93), (260.8, 6.16), (268.8, 6.8), (268.6, 6.63), (268.8, 6.52), (268.9, 6.36), (265.8, 6.51),
    (271.2, 6.4), (269.0, 5.92), (276.2, 6.11), (275.7, 5.93), (280.6, 5.84), (293.7, 5.88), (310.5, 5.86),
    (312.1, 5.82), (313.9, 5.78), (313.9, 5.69), (272.5, 5.8), (272.9, 5.57), (270.4, 5.45), (294.0, 5.49),
    (296.4, 5.39), (302.3, 5.44), (306.3, 5.47), (275.7, 5.44), (313.9, 5.36), (293.1, 5.32),
    # May 23 - Jul 14 (dense part)
    (265.6, 5.3), (265.8, 4.9), (266.0, 4.5), (266.2, 4.15), (266.4, 3.85), (266.6, 3.5), (266.8, 3.15),
    (267.0, 2.75), (267.2, 4.7), (267.4, 4.3), (267.6, 3.95), (267.8, 3.6), (268.0, 3.25), (268.2, 2.9),
    (268.4, 5.1), (268.6, 4.55), (268.8, 4.05), (269.0, 3.7), (269.2, 3.4), (269.4, 4.85), (269.6, 4.25),
    (269.8, 3.85), (270.0, 3.3), (270.2, 4.6), (266.1, 2.35), (266.5, 3.05), (267.5, 5.05), (268.5, 3.55),
    (269.5, 2.95), (270.4, 4.0),
    (270.6, 4.45), (270.8, 3.75), (271.0, 5.0), (271.2, 4.1), (271.4, 3.45), (271.6, 4.7), (271.8, 3.9),
    (272.0, 3.2), (272.2, 4.35), (272.4, 3.65), (272.6, 4.95), (272.8, 4.0), (273.0, 3.35), (273.2, 4.55),
    (273.4, 3.8), (273.6, 2.85), (273.8, 4.25), (274.0, 3.55), (274.2, 4.75), (274.4, 3.95), (274.6, 3.15),
    (274.8, 4.4), (275.0, 3.7), (275.2, 2.6), (275.4, 4.1), (275.6, 3.4), (275.8, 4.6), (276.0, 3.85),
    (276.2, 2.95), (271.1, 4.35),
    (276.4, 4.3), (276.6, 3.6), (276.8, 2.45), (277.0, 4.0), (277.2, 3.3), (277.4, 4.55), (277.6, 3.75),
    (277.8, 2.8), (278.0, 4.2), (278.2, 3.5), (278.4, 3.05), (278.6, 4.45), (278.8, 3.85), (279.0, 2.6),
    (279.2, 4.1), (279.4, 3.4), (279.6, 2.3), (279.8, 3.95), (280.0, 3.25), (280.2, 4.3), (280.4, 3.65),
    (280.6, 2.95), (280.8, 2.5), (281.0, 3.8), (277.1, 2.2), (278.9, 1.95), (280.3, 2.05),
    (281.3, 3.4), (281.6, 2.7), (281.9, 3.95), (282.2, 3.1), (282.5, 2.45), (282.8, 3.6), (283.1, 2.9),
    (283.4, 4.2), (283.7, 3.3), (284.0, 2.6), (284.3, 3.75), (284.6, 3.05), (284.9, 2.35), (285.2, 3.5),
    (285.5, 2.8), (282.0, 2.2), (284.5, 4.3),
    (285.8, 4.05), (286.1, 3.2), (286.4, 2.55), (286.7, 3.65), (287.0, 2.95), (287.3, 2.2), (287.6, 3.45),
    (287.9, 2.7), (288.2, 3.9), (288.5, 3.1), (288.8, 2.45), (289.1, 3.55), (289.4, 2.85), (289.7, 2.1),
    (290.0, 3.3), (290.3, 2.6), (290.6, 3.85), (290.9, 3.0), (291.2, 2.35), (291.5, 3.5), (291.8, 2.75),
    (292.1, 4.0), (292.4, 3.15), (292.7, 2.5), (293.0, 3.7), (293.3, 2.9), (293.6, 4.35), (293.9, 3.35),
    (294.2, 2.6), (294.5, 3.9), (294.8, 3.05), (295.1, 4.55), (295.4, 3.45), (295.7, 2.2), (289.0, 1.85),
    (292.0, 1.95), (294.0, 2.05), (291.0, 4.25), (288.0, 4.6),
    (296.0, 3.3), (296.3, 2.55), (296.6, 3.75), (296.9, 2.85), (297.2, 1.75), (297.5, 3.5), (297.8, 2.35),
    (298.1, 3.95), (298.4, 3.1), (298.7, 2.6), (299.0, 4.25), (299.3, 3.4), (299.6, 2.15), (299.9, 3.7),
    (300.2, 2.9), (300.5, 3.25), (300.8, 2.45), (301.1, 3.85), (301.4, 3.0), (301.7, 1.95), (302.0, 3.55),
    (302.3, 2.7), (302.6, 4.15), (302.9, 3.2), (303.2, 2.4), (303.5, 3.65), (303.8, 2.85), (304.1, 3.35),
    (304.4, 2.2), (304.7, 4.0), (297.0, 4.6), (300.0, 4.5), (303.0, 4.7), (298.0, 1.7),
    (305.0, 3.1), (305.3, 2.55), (305.6, 3.75), (305.9, 2.95), (306.2, 3.4), (306.5, 2.3), (306.8, 4.15),
    (307.1, 3.2), (307.4, 2.7), (307.7, 3.6), (308.0, 1.85), (308.3, 3.05), (308.6, 4.4), (308.9, 3.45),
    (309.2, 2.6), (309.5, 3.85), (309.8, 2.9), (310.1, 3.3), (310.4, 2.4), (310.7, 4.05), (311.0, 3.15),
    (311.3, 1.7), (311.6, 3.55), (311.9, 2.75), (312.2, 3.95), (312.5, 3.1), (312.8, 2.5), (313.1, 4.3),
    (313.4, 3.4), (313.7, 2.2), (314.0, 3.75), (314.3, 2.85), (314.5, 4.55), (306.0, 4.65), (310.0, 4.75),
    (314.2, 5.1), (309.0, 1.75),
]

# further SAE readings grouped by day: (day offset, [MD values])
sae_healthy_groups = [
    # Sep-Oct core
    (29.8, [3.7, 3.2]), (30.3, [3.45, 2.9]), (30.8, [3.6, 3.05]), (31.3, [3.3, 2.75]), (31.8, [3.5, 3.15]),
    (32.3, [3.25, 2.85]), (32.8, [3.4, 2.6]), (33.3, [3.1, 2.8, 3.55]), (33.8, [3.3, 2.5]),
    (34.3, [3.0, 2.7, 3.45]), (34.8, [3.2, 2.45]), (35.3, [2.85, 3.35, 2.6]), (35.8, [3.05, 2.4]),
    (36.3, [2.75, 3.25, 2.55]), (36.8, [2.95, 3.4, 2.3]), (37.3, [2.7, 3.15]), (37.8, [2.9, 2.45, 3.35]),
    (38.3, [2.65, 3.05]), (38.8, [2.85, 2.35, 3.2]), (39.3, [2.6, 3.0]), (39.8, [2.8, 2.4, 3.25]),
    (40.3, [2.55, 2.95]), (40.8, [2.75, 2.25, 3.1]), (41.3, [2.5, 2.9]), (41.8, [2.7, 2.2, 3.05]),
    (42.3, [2.55, 2.85]), (42.8, [2.35, 2.7, 3.0]), (43.3, [2.5, 2.8]), (43.8, [2.3, 2.65, 3.2]),
    (44.3, [3.4, 2.55]), (44.8, [3.65, 3.0]), (45.3, [3.9, 3.45]), (45.8, [4.1, 3.6]), (46.3, [3.8, 4.35]),
    (46.8, [4.05, 3.55]), (47.3, [4.3, 3.75]), (47.8, [4.0, 4.55]), (48.3, [3.85, 4.2]), (48.8, [4.15, 3.65]),
    (49.3, [4.4, 3.9]), (49.8, [4.25, 4.6]), (50.3, [4.0, 4.45]),
    # Jan-Feb core
    (143.8, [3.9, 3.3, 2.7]), (144.4, [4.3, 3.6]), (145.0, [3.75, 3.1, 2.55]), (145.6, [4.45, 3.45]),
    (146.2, [3.95, 3.25, 2.8]), (146.8, [4.6, 3.7]), (147.4, [4.1, 3.35]), (148.0, [3.85, 4.5]),
    (148.6, [3.6, 4.2]), (149.2, [4.7, 3.95]), (149.8, [3.45, 4.35]), (150.4, [3.8, 3.2]),
    (151.0, [4.05, 3.55, 2.95]), (151.6, [4.4, 3.4]), (152.2, [3.7, 3.05]), (152.8, [4.2, 3.5, 2.7]),
    (153.4, [3.9, 3.25]), (154.0, [4.55, 3.8]), (154.6, [4.15, 3.6]), (155.2, [4.85, 3.75]), (155.8, [4.45, 3.95]),
    # May-Jul core
    (265.7, [4.4, 3.6, 3.0]), (266.05, [3.9, 4.7, 3.3]), (266.4, [4.2, 3.45, 2.9]), (266.75, [3.75, 4.5, 4.0]),
    (267.1, [3.35, 4.1, 3.8]), (267.45, [4.35, 3.55, 2.85]), (267.8, [3.9, 4.6, 3.25]),
    (268.15, [4.15, 3.65, 3.05]), (268.5, [3.8, 4.3, 3.4]), (268.85, [4.55, 3.5, 3.9]),
    (269.2, [4.05, 3.25, 4.4]), (269.55, [3.65, 4.2, 3.0]), (269.9, [4.45, 3.85, 3.55]),
    (270.25, [3.4, 4.1, 3.75]), (270.6, [4.0, 3.6, 4.75]), (270.95, [3.7, 4.3, 3.2]),
    (271.3, [4.2, 3.45, 3.9]), (271.65, [3.8, 4.5, 3.05]), (272.0, [4.1, 3.55, 4.35]),
    (272.35, [3.35, 3.95, 4.6]), (272.7, [4.25, 3.7, 3.1]), (273.05, [3.85, 4.45, 3.4]),
    (273.4, [4.05, 3.3, 3.7]), (273.75, [3.6, 4.2, 3.0]), (274.1, [4.35, 3.75, 3.45]),
    (274.45, [3.5, 4.1, 3.25]), (274.8, [3.9, 3.3, 4.45]), (275.15, [3.65, 4.2, 2.95]),
    (275.5, [4.0, 3.45, 3.8]), (275.85, [3.35, 3.9, 4.3]), (276.2, [3.75, 3.2, 4.05]),
    (276.55, [3.95, 3.5, 2.85]), (276.9, [3.45, 4.15, 3.7]), (277.25, [3.7, 3.05, 4.0]),
    (277.6, [3.3, 3.9, 4.4]), (277.95, [3.6, 3.15, 4.1]), (278.3, [3.85, 3.35, 2.9]),
    (278.65, [3.5, 4.05, 3.1]), (279.0, [3.75, 3.25, 4.2]), (279.35, [3.1, 3.65, 3.95]),
    (279.7, [3.55, 4.15, 2.75]), (280.05, [3.85, 3.4, 3.05]), (280.4, [3.3, 3.95, 2.6]),
    (280.75, [3.6, 3.15, 4.1]), (281.1, [3.35, 2.9, 3.75]), (281.45, [3.1, 3.6, 2.5]),
    (281.8, [3.45, 2.8, 3.9]), (282.15, [3.2, 3.7, 2.65]), (282.5, [3.55, 2.95, 3.35]),
    (282.85, [3.0, 3.8, 2.4]), (283.2, [3.4, 2.75, 3.65]), (283.55, [3.15, 3.55, 2.55]),
    (283.9, [3.45, 2.9, 3.8]), (284.25, [3.2, 2.6, 3.55]), (284.6, [3.5, 2.85, 3.1]),
    (284.95, [2.95, 3.4, 2.45]), (285.3, [3.3, 2.7, 3.75]), (285.65, [3.05, 3.55, 2.5]),
    (286.0, [3.35, 2.75, 3.9]), (286.35, [3.0, 3.6, 2.4]), (286.7, [3.3, 2.65, 3.15]),
    (287.05, [2.9, 3.45, 2.35]), (287.4, [3.25, 2.7, 3.8]), (287.75, [3.05, 3.5, 2.45]),
    (288.1, [2.8, 3.3, 2.6]), (288.45, [3.4, 2.5, 3.0]), (288.8, [3.15, 3.65, 2.3]),
    (289.15, [2.7, 3.25, 2.95]), (289.5, [3.05, 2.45, 3.5]), (289.85, [3.3, 2.85, 2.2]),
    (290.2, [2.6, 3.15, 3.7]), (290.55, [3.0, 2.4, 3.4]), (290.9, [3.25, 2.75, 2.55]),
    (291.25, [2.95, 3.55, 2.3]), (291.6, [3.2, 2.65, 3.85]), (291.95, [2.85, 3.4, 2.5]),
    (292.3, [3.1, 2.6, 3.65]), (292.65, [2.7, 3.3, 2.35]), (293.0, [3.0, 2.55, 3.9]),
    (293.35, [3.35, 2.8, 2.45]), (293.7, [3.05, 3.6, 2.65]), (294.05, [2.75, 3.25, 4.0]),
    (294.4, [3.15, 2.5, 3.5]), (294.75, [2.9, 3.4, 2.3]), (295.1, [3.25, 2.7, 3.75]),
    (295.45, [2.8, 3.55, 2.45]), (295.8, [3.1, 2.6, 3.95]), (296.15, [2.85, 3.35, 2.4]),
    (296.5, [3.2, 2.7, 3.8]), (296.85, [2.6, 3.05, 3.55]), (297.2, [3.3, 2.45, 3.9]),
    (297.55, [2.95, 3.6, 2.25]), (297.9, [3.15, 2.65, 3.4]), (298.25, [2.8, 3.5, 2.4]),
    (298.6, [3.25, 2.55, 3.85]), (298.95, [2.9, 3.4, 2.2]), (299.3, [3.1, 2.7, 3.6]),
    (299.65, [2.75, 3.3, 2.45]), (300.0, [3.2, 2.6, 3.75]), (300.35, [2.95, 3.45, 2.3]),
    (300.7, [3.35, 2.75, 3.9]), (301.05, [2.85, 3.2, 2.5]), (301.4, [3.05, 2.55, 3.65]),
    (301.75, [2.7, 3.35, 2.35]), (302.1, [3.15, 2.8, 3.5]), (302.45, [2.9, 3.6, 2.4]),
    (302.8, [3.3, 2.65, 3.95]), (303.15, [2.75, 3.15, 2.2]), (303.5, [3.05, 2.5, 3.45]),
    (303.85, [2.85, 3.4, 2.6]), (304.2, [3.2, 2.7, 3.8]), (304.55, [2.95, 3.55, 2.3]),
    (304.9, [3.3, 2.6, 3.0]), (305.25, [2.8, 3.45, 2.45]), (305.6, [3.1, 2.7, 3.9]),
    (305.95, [2.9, 3.3, 2.25]), (306.3, [3.25, 2.55, 3.6]), (306.65, [2.75, 3.5, 2.4]),
    (307.0, [3.15, 2.8, 3.75]), (307.35, [2.95, 3.4, 2.15]), (307.7, [3.3, 2.6, 3.55]),
    (308.05, [2.85, 3.2, 2.45]), (308.4, [3.05, 2.7, 3.85]), (308.75, [2.8, 3.45, 2.3]),
    (309.1, [3.2, 2.55, 3.65]), (309.45, [2.9, 3.35, 2.45]), (309.8, [3.35, 2.75, 3.95]),
    (310.15, [2.7, 3.15, 2.2]), (310.5, [3.1, 2.6, 3.5]), (310.85, [2.95, 3.45, 2.35]),
    (311.2, [3.25, 2.8, 3.8]), (311.55, [2.75, 3.3, 2.5]), (311.9, [3.05, 2.65, 3.6]),
    (312.25, [3.4, 2.9, 4.0]), (312.6, [2.85, 3.25, 2.4]), (312.95, [3.15, 2.7, 3.7]),
    (313.3, [3.5, 2.95, 4.2]), (313.65, [3.0, 3.4, 2.6]), (314.0, [3.3, 2.8, 3.9]),
    (314.35, [3.6, 3.1, 4.0]),
]

sae_anomaly = [
    (17.45, 10.62), (17.45, 9.56), (17.45, 8.69), (17.45, 7.53), (72.1, 9.29), (111.5, 9.64), (111.5, 7.6),
    (219.6, 7.16), (260.8, 9.86), (260.8, 9.06), (260.8, 8.17), (260.8, 7.77), (260.8, 7.57), (260.8, 7.37),
    (268.8, 7.38), (268.8, 7.18), (268.8, 7.02), (280.5, 7.18), (296.4, 7.13), (312.2, 8.07), (312.2, 7.88),
    (312.2, 7.65),
]


def to_dates(pairs):
    return [START + pd.Timedelta(days=d) for d, _ in pairs], [v for _, v in pairs]


def expand(groups):
    return [(d, v) for d, vals in groups for v in vals]


# ---------------- styling ----------------
# the page body has an 8 px margin, so the figure is sized to fit inside the window
OFF = 8
W, H = 2793 - 2 * OFF, 2319 - 2 * OFF


def px(x):   # page x (pixels) -> paper fraction
    return (x - OFF) / W


def py(y):   # page y (pixels from top) -> paper fraction
    return 1 - (y - OFF) / H


BLUE = "#0072BD"
AXC = "#262626"
TXT = "#1a1a1a"
FONT = "Liberation Sans, Arial, sans-serif"

tick_text = [
    (f"<span style='font-size:50px'>{m}</span><br><span style='font-size:54px'>{y}</span>" if m else "")
    for m, y in zip(month_names, month_years)
]

fig = go.Figure()

panels = [
    ("x", "y", "legend", pca_healthy + expand(pca_healthy_groups), pca_anomaly, pca_threshold),
    ("x2", "y2", "legend2", sae_healthy + expand(sae_healthy_groups), sae_anomaly, sae_threshold),
]
for xa, ya, lg, healthy, anomaly, thr in panels:
    hx, hy = to_dates(healthy)
    ax_, ay_ = to_dates(anomaly)
    fig.add_trace(go.Scatter(x=hx, y=hy, mode="markers", name="Healthy", xaxis=xa, yaxis=ya, legend=lg,
                             marker=dict(color=BLUE, size=11, line=dict(width=0))))
    fig.add_trace(go.Scatter(x=threshold_span, y=[thr, thr], mode="lines", name="Threshold", xaxis=xa,
                             yaxis=ya, legend=lg, line=dict(color="#FF00FF", width=10)))
    fig.add_trace(go.Scatter(x=ax_, y=ay_, mode="markers", name="Anomaly", xaxis=xa, yaxis=ya, legend=lg,
                             marker=dict(color="#FF0000", symbol="x", size=30, line=dict(width=0))))

xdom = [px(366), px(2772)]
ydom_a = [py(951), py(90)]
ydom_b = [py(2138), py(1285)]

xcommon = dict(
    type="date", range=[month_ticks[0], month_ticks[-1]], domain=xdom, automargin=False,
    tickmode="array", tickvals=month_ticks, ticktext=tick_text,
    ticks="inside", ticklen=26, tickwidth=3, tickcolor=AXC,
    showline=True, linecolor=AXC, linewidth=3, mirror="ticks",
    showgrid=False, zeroline=False, tickangle=0,
    tickfont=dict(family=FONT, size=60, color=TXT), ticklabelstandoff=0,
)
ycommon = dict(
    ticks="inside", ticklen=26, tickwidth=3, tickcolor=AXC, dtick=2, automargin=False,
    showline=True, linecolor=AXC, linewidth=3, mirror="ticks",
    showgrid=False, zeroline=False,
    tickfont=dict(family=FONT, size=47, color=TXT), ticklabelstandoff=14,
)

legend_common = dict(xanchor="left", yanchor="top", bgcolor="white", bordercolor=AXC, borderwidth=4,
                     font=dict(family=FONT, size=46, color="black"), itemwidth=172, tracegroupgap=0)

fig.update_layout(
    width=W, height=H, margin=dict(l=0, r=0, t=0, b=0, autoexpand=False),
    paper_bgcolor="white", plot_bgcolor="white",
    xaxis=dict(**xcommon, anchor="y"),
    xaxis2=dict(**xcommon, anchor="y2"),
    yaxis=dict(**ycommon, domain=ydom_a, range=[0, 10], anchor="x",
               title=dict(text="MD calculated by PCA model", font=dict(family=FONT, size=56, color=TXT),
                          standoff=12)),
    yaxis2=dict(**ycommon, domain=ydom_b, range=[0, 12], anchor="x2",
                title=dict(text="MD calculated by SAE model", font=dict(family=FONT, size=56, color=TXT),
                           standoff=12)),
    legend=dict(**legend_common, x=px(2321), y=py(701)),
    legend2=dict(**legend_common, x=px(2325), y=py(1319)),
    annotations=[
        dict(text="<b>PCA</b>", x=(xdom[0] + xdom[1]) / 2, y=py(45), xref="paper", yref="paper",
             showarrow=False, font=dict(family=FONT, size=52, color="black"), yanchor="middle"),
        dict(text="<b>SAE</b>", x=(xdom[0] + xdom[1]) / 2, y=py(1241), xref="paper", yref="paper",
             showarrow=False, font=dict(family=FONT, size=52, color="black"), yanchor="middle"),
        dict(text="(a)", x=px(71), y=py(134), xref="paper", yref="paper", showarrow=False,
             font=dict(family="Liberation Serif, Times New Roman, serif", size=110, color="black"),
             xanchor="center", yanchor="middle"),
        dict(text="(b)", x=px(73), y=py(1327), xref="paper", yref="paper", showarrow=False,
             font=dict(family="Liberation Serif, Times New Roman, serif", size=110, color="black"),
             xanchor="center", yanchor="middle"),
    ],
)

fig.write_html("out.html")
